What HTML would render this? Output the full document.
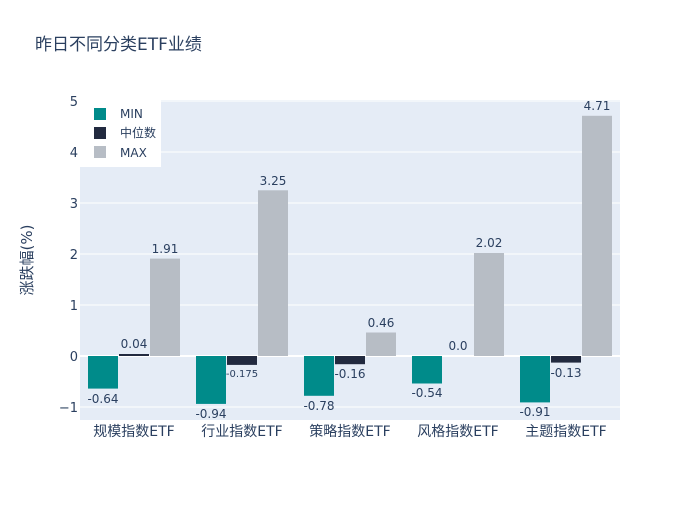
<!DOCTYPE html>
<html><head><meta charset="utf-8"><style>
body{margin:0;background:#fff}
svg text{font-family:"DejaVu Sans","Noto Sans CJK SC",sans-serif;fill:#2a3f5f}
</style></head><body>
<svg width="700" height="500" xmlns="http://www.w3.org/2000/svg">
<rect width="700" height="500" fill="#fff"/>
<text x="35" y="50" font-size="17">昨日不同分类ETF业绩</text>
<rect x="80" y="100" width="540" height="320" fill="#e5ecf6"/>
<g stroke="#fff" stroke-width="1">
<line x1="80" x2="620" y1="407" y2="407"/>
<line x1="80" x2="620" y1="305" y2="305"/>
<line x1="80" x2="620" y1="254" y2="254"/>
<line x1="80" x2="620" y1="203" y2="203"/>
<line x1="80" x2="620" y1="152" y2="152"/>
<line x1="80" x2="620" y1="101" y2="101"/>
</g>
<line x1="80" x2="620" y1="356" y2="356" stroke="#fff" stroke-width="2"/>
<g font-size="13" text-anchor="end">
<text x="78" y="412">−1</text><text x="78" y="361">0</text><text x="78" y="310">1</text>
<text x="78" y="259">2</text><text x="78" y="208">3</text><text x="78" y="157">4</text><text x="78" y="106">5</text>
</g>
<text transform="translate(32,260) rotate(-90)" font-size="15" text-anchor="middle">涨跌幅(%)</text>
<g fill="#008b8a">
<rect x="88" y="356" width="30" height="32.6"/>
<rect x="196" y="356" width="30" height="47.9"/>
<rect x="304" y="356" width="30" height="39.8"/>
<rect x="412" y="356" width="30" height="27.5"/>
<rect x="520" y="356" width="30" height="46.4"/>
</g>
<g fill="#222a3f">
<rect x="119" y="354" width="30" height="2"/>
<rect x="227" y="356" width="30" height="8.9"/>
<rect x="335" y="356" width="30" height="8.2"/>
<rect x="551" y="356" width="30" height="6.6"/>
</g>
<g fill="#b7bdc5">
<rect x="150" y="258.6" width="30" height="97.4"/>
<rect x="258" y="190.3" width="30" height="165.7"/>
<rect x="366" y="332.5" width="30" height="23.5"/>
<rect x="474" y="253" width="30" height="103"/>
<rect x="582" y="115.8" width="30" height="240.2"/>
</g>
<g font-size="12" text-anchor="middle">
<text x="103" y="403">-0.64</text><text x="134" y="348">0.04</text><text x="165" y="253">1.91</text>
<text x="211" y="418">-0.94</text><text x="242" y="377" font-size="10">-0.175</text><text x="273" y="185">3.25</text>
<text x="319" y="410">-0.78</text><text x="350" y="378">-0.16</text><text x="381" y="327">0.46</text>
<text x="427" y="397">-0.54</text><text x="458" y="350">0.0</text><text x="489" y="247">2.02</text>
<text x="535" y="416">-0.91</text><text x="566" y="377">-0.13</text><text x="597" y="110">4.71</text>
</g>
<g font-size="14" text-anchor="middle">
<text x="134" y="436">规模指数ETF</text><text x="242" y="436">行业指数ETF</text><text x="350" y="436">策略指数ETF</text>
<text x="458" y="436">风格指数ETF</text><text x="566" y="436">主题指数ETF</text>
</g>
<rect x="80" y="100" width="81" height="67" fill="#fff"/>
<rect x="94" y="108" width="12" height="12" fill="#008b8a"/>
<rect x="94" y="127" width="12" height="12" fill="#222a3f"/>
<rect x="94" y="146" width="12" height="12" fill="#b7bdc5"/>
<g font-size="12"><text x="120" y="118">MIN</text><text x="120" y="137">中位数</text><text x="120" y="157">MAX</text></g>
</svg>
</body></html>
